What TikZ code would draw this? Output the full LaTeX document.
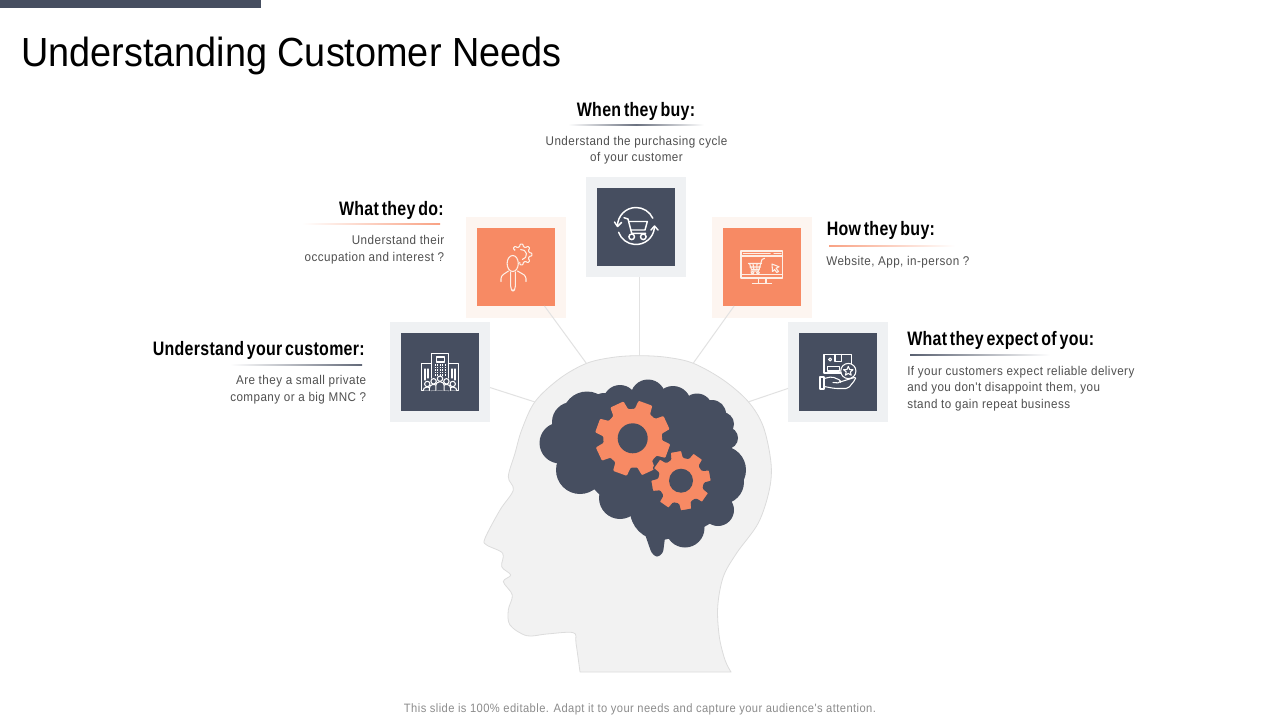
\documentclass[tikz,border=0pt]{standalone}
\usepackage{fontspec}
\setmainfont{Liberation Sans}
\newfontfamily\titlefont[FakeStretch=0.93]{Liberation Sans}
\newfontfamily\narrowreg[FakeStretch=0.92,LetterSpace=3.5]{Liberation Sans}
\newfontfamily\narrowbold[FakeStretch=0.82,LetterSpace=1.5,WordSpace=0.6,UprightFont=* Bold]{Liberation Sans}
\definecolor{navy}{HTML}{464E60}
\definecolor{coral}{HTML}{F78A64}
\definecolor{palegrey}{HTML}{EFF1F3}
\definecolor{palecoral}{HTML}{FDF5F0}
\definecolor{headfill}{HTML}{F2F2F2}
\definecolor{headline}{HTML}{DCDCDC}
\definecolor{linkgrey}{HTML}{E2E2E2}
\definecolor{bodygrey}{HTML}{505050}
\definecolor{footgrey}{HTML}{8C8C8C}
\definecolor{iconpeach}{HTML}{FDEFE6}
\newcommand{\gearshape}[7]{% cx cy outer root hole rot style
  \begin{scope}[shift={(#1,#2)}]
    \fill[#7,rounded corners=0.7pt] (#6-16:#4)
      \foreach \a in {0,45,...,315}{ -- (#6+\a-16:#4) -- (#6+\a-11:#3) -- (#6+\a+11:#3) -- (#6+\a+16:#4) } -- cycle;
    \fill[navy] (0,0) circle (#5);
  \end{scope}}
\tikzset{
  x=0.75pt,y=-0.75pt,
  tile/.style={minimum size=75pt,inner sep=0pt,outer sep=0pt},
  greytile/.style={tile,fill=palegrey},
  peachtile/.style={tile,fill=palecoral},
  core/.style={minimum size=58.5pt,inner sep=0pt,outer sep=0pt},
  navycore/.style={core,fill=navy},
  coralcore/.style={core,fill=coral},
  link/.style={draw=linkgrey,line width=0.75pt},
  whiteicon/.style={draw=white,line width=0.8pt,line join=round,line cap=round},
  peachicon/.style={draw=iconpeach,line width=0.8pt,line join=round,line cap=round},
  heading/.style={inner sep=0pt,font=\narrowbold\fontsize{14.6pt}{17pt}\selectfont,text=black},
  bodytext/.style={inner sep=0pt,font=\narrowreg\fontsize{9.5pt}{12.1pt}\selectfont,text=bodygrey},
}
\begin{document}
\begin{tikzpicture}
\useasboundingbox (0,0) rectangle (1280,720);
\fill[white] (0,0) rectangle (1280,720);
\fill[navy] (0,0) rectangle (261,8.5);
\node[anchor=base west,inner sep=0pt,font=\titlefont\fontsize{30.5pt}{34pt}\selectfont,text=black] (title) at (21,67) {Understanding Customer Needs};

% head
\draw[fill=headfill,draw=headline,line width=0.6pt,line join=round]
  (580,672) -- (731,672) -- plot[smooth,tension=0.55] coordinates {
  (731,672) (725,660) (719.3,636.7) (717.7,606.7) (723.3,576.7) (736.7,553) (758.3,523) (769.3,490) (771,463) (763.3,426.7) (748.3,401.7) (723.3,380) (693.3,363.3) (666.7,357.3) (639.3,355.7) (613.3,357.3) (586.7,363.3) (560,378.3) (535,401.7) (521.7,430) (515,453.3) (508.3,476.7) (513.3,490) (500,510) (485,538.3) (486.7,545) (502.7,553.3) (501.7,566.7) (510.7,575) (503.3,581.7) (512.3,595) (508.3,610) (510,625) (526.7,635.7) (546.7,634) (573.3,632.7) (576,643.3) (580,672)} -- cycle;

% brain
\fill[navy] (560,443) circle (20.5) (580,470) circle (24) (587,416) circle (24.5)
  (572,422) circle (20) (604,408) circle (15)
  (620,402) circle (17) (648,397) circle (17.5) (673,404) circle (18)
  (697,409) circle (15.5) (712,414) circle (14) (722,424) circle (12) (727,438) circle (11)
  (722,470) circle (24) (722,482) circle (22) (718,510) circle (16) (685,528) circle (19.5) (620,498) circle (21)
  (640,450) circle (60) (600,450) circle (30) (690,450) circle (40) (660,510) circle (30);
\fill[navy] (560,440) -- (585,400) -- (620,392) -- (650,388) -- (700,400) -- (725,430) -- (735,470) -- (725,515) -- (690,535) -- (660,530) -- (620,510) -- (602,497) -- (585,480) -- cycle;
\fill[navy,rounded corners=2pt] (628,505) -- (640,520) -- (651.5,553) -- (657,557.5) -- (663,553) -- (666,530) -- (680,505) -- cycle;
\gearshape{632.7}{438.3}{38}{29.5}{15}{-25}{coral}
\gearshape{681}{480.7}{30.5}{23.5}{12}{-10}{coral,draw=navy,line width=1pt}

% tiles
\coordinate (h1) at (535,402);
\coordinate (h2) at (586.5,363.5);
\coordinate (h3) at (639.5,356);
\coordinate (h4) at (693,363.5);
\coordinate (h5) at (748,402);
\coordinate (t3b) at (639.5,277);
\node[greytile] (t1) at (440,371.5) {};
\node[peachtile] (t2) at (516,267.5) {};
\node[greytile] (t3) at (636,227) {};
\node[peachtile] (t4) at (762,267.5) {};
\node[greytile] (t5) at (838,371.5) {};
\node[navycore] (c1) at (440,371.5) {};
\node[coralcore] (c2) at (516,267) {};
\node[navycore] (c3) at (636,227) {};
\node[coralcore] (c4) at (762,267) {};
\node[navycore] (c5) at (838,371.5) {};
\draw[link] (t1) -- (h1);
\draw[link] (c2) -- (h2);
\draw[link] (t3b) -- (h3);
\draw[link] (c4) -- (h4);
\draw[link] (t5) -- (h5);

% building icon
\begin{scope}[whiteicon]
  \draw (431.7,378) -- (431.7,353.7) -- (448.3,353.7) -- (448.3,378);
  \draw (431.7,363.7) -- (421.7,363.7) -- (421.7,390.5) -- (458.3,390.5) -- (458.3,363.7) -- (448.3,363.7);
  \draw (436.7,357) rectangle (444.3,362);
  \foreach \yy in {365,367.5,370,372.5,375}{\draw[densely dotted,line width=0.8pt,line cap=butt] (435,\yy) -- (445,\yy);}
  \draw (425,369) -- (425,380) (428,369) -- (428,378) (452,369) -- (452,378) (455,369) -- (455,380);
  \foreach \xx/\yy in {427.3/384,452.7/384,433.6/381.3,446.4/381.3,440/378.7}{
    \draw[fill=navy,rounded corners=2.6pt] (\xx-4.2,390.5) -- (\xx-4.2,\yy+3.2) -- (\xx+4.2,\yy+3.2) -- (\xx+4.2,390.5);
    \draw[fill=navy] (\xx,\yy) circle (2.7);
  }
\end{scope}

% person icon
\begin{scope}[peachicon]
  \draw[rounded corners=2pt] (501,281.5) -- (501,276) -- (508.5,271);
  \draw[rounded corners=2pt] (526,281.5) -- (526,276) -- (517.5,271);
  \draw[rounded corners=2pt] (510.7,272) -- (510.7,289) -- (513,291.5) -- (515.3,289) -- (515.3,272);
\end{scope}
\begin{scope}[shift={(521.5,254.5)},peachicon]
  \draw[rounded corners=0.6pt] (-148:8)
    \foreach \a in {-135,-90,-45,0,45,90}{ -- (\a-13:8) -- (\a-8:10.5) -- (\a+8:10.5) -- (\a+13:8)};
  \draw (-100:5) arc[start angle=-100,end angle=80,radius=5];
\end{scope}
\draw[peachicon,fill=coral] (512.7,263.5) ellipse (5.6 and 8);

% cart cycle icon
\begin{scope}[whiteicon,line width=1.1pt]
  \draw (636,226) ++(180:18.5) arc[start angle=180,end angle=335,radius=18.5];
  \draw (636,226) ++(5:18.5) arc[start angle=5,end angle=160,radius=18.5];
  \draw (614.5,222) -- (617.5,226.5) -- (621.5,222.5);
  \draw (651,230) -- (654.5,226) -- (658,230);
  \draw (624,217.7) -- (628,219) -- (631.7,233.3) -- (645.7,233.3);
  \draw (629,221.5) -- (647.3,221.5) -- (645,230) -- (631,230);
  \draw (631.7,236.8) circle (2.8) (643.3,236.8) circle (2.8);
\end{scope}

% web shop icon
\begin{scope}[peachicon]
  \draw (741,251) rectangle (782.7,278);
  \draw (741,256) -- (782.7,256) (741,274.5) -- (782.7,274.5);
  \draw[line width=1.4pt] (743.5,253.5) -- (770,253.5);
  \draw (774,253.5) -- (781,253.5);
  \draw (758.3,278) -- (758.3,283) (766,278) -- (766,283) (752.3,283.5) -- (771.7,283.5);
  \draw (764.5,258.3) -- (762,259.5) -- (758.5,271) -- (751,271);
  \draw (748.3,263.5) -- (761.5,263.5) (750,267) -- (760.5,267) (749.5,263.5) -- (751.5,269.5) -- (759.3,269.5);
  \draw (753,264) -- (753.8,269) (757,264) -- (756.8,269);
  \draw (752.5,272.8) circle (1.4) (758,272.8) circle (1.4);
  \draw (772,264) -- (779,266.8) -- (776,268.2) -- (778.5,271.5) -- (776.8,272.5) -- (774.5,269.5) -- (772.5,271.5) -- cycle;
\end{scope}

% parcel icon
\begin{scope}[whiteicon]
  \draw (841,373) -- (824,373) -- (824,354.3) -- (851.7,354.3) -- (851.7,363.5);
  \draw (835,354.3) -- (835,361.7) -- (841.7,361.7) -- (841.7,354.3);
  \draw (830,359.5) circle (1.5);
  \draw (827.3,366.5) rectangle (839.3,371);
  \draw (848.3,371) circle (7.6);
  \draw (848.3,366.3) -- (849.6,369.5) -- (853,369.7) -- (850.4,371.9) -- (851.2,375.2) -- (848.3,373.4) -- (845.4,375.2) -- (846.2,371.9) -- (843.6,369.7) -- (847,369.5) -- cycle;
  \draw (820,377) rectangle (824,389);
  \draw[rounded corners=1.5pt] (824,378.5) -- (832,376.7) -- (841,380.5) -- (840,383) -- (833,382.5);
  \draw[rounded corners=1.5pt] (840,382) -- (856,377) -- (855,380) -- (848,388.5) -- (835,388.5) -- (824,386.5);
\end{scope}

% texts
\node[heading,anchor=base east] (n1) at (365,355) {Understand your customer:};
\shade[left color=white,right color=navy!85] (230,364.8) rectangle (362,365.8);
\node[bodytext,anchor=base east,align=right] (b1) at (366.5,401) {Are they a small private\\company or a big MNC ?};

\node[heading,anchor=base east] (n2) at (444,216) {What they do:};
\shade[left color=white,right color=coral!80] (302,224) rectangle (440,225);
\node[bodytext,anchor=base east,align=right] (b2) at (444.5,261) {Understand their\\occupation and interest ?};

\node[heading,anchor=base] (n3) at (636,117) {When they buy:};
\shade[left color=white,right color=navy!80] (568,125) rectangle (636,126);
\shade[left color=navy!80,right color=white] (636,125) rectangle (704,126);
\node[bodytext,anchor=base,align=center] (b3) at (636.5,162) {Understand the purchasing cycle\\of your customer};

\node[heading,anchor=base west] (n4) at (826.5,235) {How they buy:};
\shade[left color=coral!80,right color=white] (829,245) rectangle (955,246);
\node[bodytext,anchor=base west] (b4) at (826,265) {Website, App, in-person ?};

\node[heading,anchor=base west] (n5) at (907,345) {What they expect of you:};
\shade[left color=navy!90,right color=white] (910,354.8) rectangle (1050,355.8);
\node[bodytext,anchor=base west,align=left] (b5) at (907,408) {If your customers expect reliable delivery\\and you don't disappoint them, you\\stand to gain repeat business};

\node[anchor=base,inner sep=0pt,font=\narrowreg\fontsize{9.1pt}{11pt}\selectfont,text=footgrey] (foot) at (640,712.5) {This slide is 100\% editable. Adapt it to your needs and capture your audience's attention.};
\end{tikzpicture}
\end{document}
